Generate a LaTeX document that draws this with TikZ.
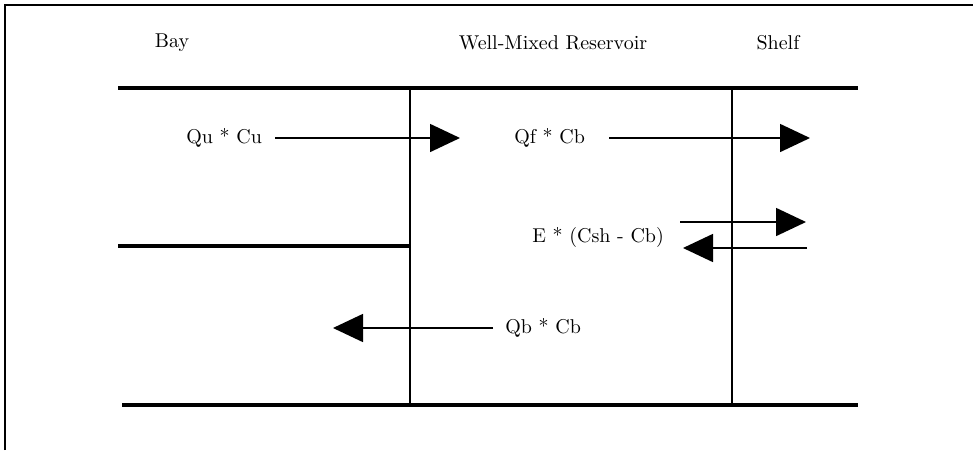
\documentclass[tikz,border=0pt]{standalone}
\usetikzlibrary{arrows.meta}

\tikzset{
  wall/.style={line width=1.8pt},
  flow/.style={-{Triangle[length=15pt,width=14pt]}, line width=0.8pt},
  lbl/.style={inner sep=0pt, anchor=west}
}

\begin{document}
\begin{tikzpicture}[x=0.5pt,y=-0.5pt]
        \useasboundingbox (0,0) rectangle (973,450);
        % frame
        \draw[line width=1pt] (5,450) -- (5,5) -- (973,5);

        % region names
        \node (bay) at (172,43) {Bay};
        \node (res) at (553,43) {Well-Mixed Reservoir};
        \node (shelf) at (778,43) {Shelf};

        % walls of the reservoir
        \draw[wall] (118,88) -- (858,88);
        \draw[wall] (122,405) -- (858,405);
        \draw[wall] (118,246) -- (410,246);
        \draw[line width=1.4pt] (410,88) -- (410,405);
        \draw[line width=1.4pt] (732,88) -- (732,405);

        % fluxes
        \node[lbl] (qu) at (186,138) {Qu * Cu};
        \coordinate (quTip) at (460,138);
        \draw[flow, shorten <=6.5pt] (qu.east) -- (quTip);

        \node[lbl] (qf) at (514,138) {Qf * Cb};
        \coordinate (qfTip) at (810,138);
        \draw[flow, shorten <=12pt] (qf.east) -- (qfTip);

        \node[lbl] (ex) at (532,237) {E * (Csh - Cb)};
        \coordinate (exInA) at (680,222);
        \coordinate (exTipA) at (806,222);
        \coordinate (exInB) at (807,248);
        \coordinate (exTipB) at (683,248);
        \draw[flow] (exInA) -- (exTipA);
        \draw[flow] (exInB) -- (exTipB);

        \node[lbl] (qb) at (505,328) {Qb * Cb};
        \coordinate (qbTip) at (333,328);
        \draw[flow, shorten <=6pt] (qb.west) -- (qbTip);
      \end{tikzpicture}
\end{document}
